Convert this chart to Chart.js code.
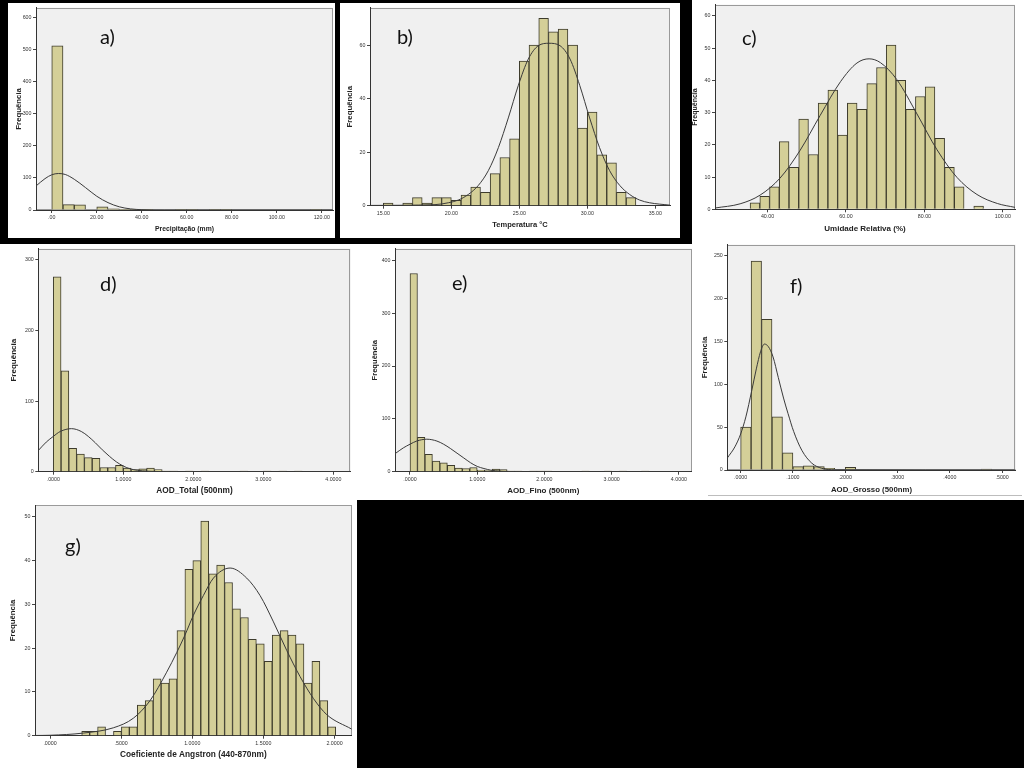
<!DOCTYPE html>
<html>
<head>
<meta charset="utf-8">
<script src="https://cdn.jsdelivr.net/npm/chart.js"></script>
<style>
html, body { margin:0; padding:0; background:#000; width:1024px; height:768px; overflow:hidden; position:relative; }
.w { position:absolute; background:#fff; }
canvas { position:absolute; }
.lbl { position:absolute; font:20px Lato, 'Open Sans', sans-serif; line-height:20px; color:#111; }
</style>
</head>
<body>
<!-- white sheets of the composite -->
<div class="w" style="left:8px;top:3px;width:327px;height:235px"></div>
<div class="w" style="left:340px;top:3px;width:340px;height:235px"></div>
<div class="w" style="left:692px;top:0;width:332px;height:500px"></div>
<div class="w" style="left:0;top:244px;width:692px;height:256px"></div>
<div class="w" style="left:0;top:500px;width:357px;height:268px"></div>
<div style="position:absolute;left:708px;top:495px;width:314px;height:1px;background:#bdbdbd"></div>

<canvas id="pa" width="327" height="235" style="left:8px;top:3px"></canvas>
<canvas id="pb" width="340" height="235" style="left:340px;top:3px"></canvas>
<canvas id="pc" width="332" height="240" style="left:692px;top:0"></canvas>
<canvas id="pd" width="358" height="256" style="left:0;top:244px"></canvas>
<canvas id="pe" width="335" height="256" style="left:358px;top:244px"></canvas>
<canvas id="pf" width="327" height="260" style="left:697px;top:240px"></canvas>
<canvas id="pg" width="357" height="268" style="left:0;top:500px"></canvas>

<div class="lbl" style="left:100px;top:26px">a)</div>
<div class="lbl" style="left:397px;top:26px">b)</div>
<div class="lbl" style="left:742px;top:27px">c)</div>
<div class="lbl" style="left:100px;top:273px">d)</div>
<div class="lbl" style="left:452px;top:272px">e)</div>
<div class="lbl" style="left:790px;top:275px">f)</div>
<div class="lbl" style="left:65px;top:535px">g)</div>

<script>
// a) Precipitação (mm)
const precipBinStart = 0;
const precipBinWidth = 5;
const precipCounts = [513, 17, 16, 0, 10, 4, 2, 1, 1, 0, 0, 1, 1, 0, 1, 1, 0, 0, 0, 0, 0, 0, 0, 1];
const precipCurveX = [-7, -3, 0, 3, 6, 10, 15, 20, 25, 30, 35, 40, 50, 125];
const precipCurveY = [75, 98, 110, 114, 111, 96, 70, 43, 23, 10, 3.5, 1, 0, 0];
const precipXTicks = [0, 20, 40, 60, 80, 100, 120];
const precipXLabels = ['.00', '20.00', '40.00', '60.00', '80.00', '100.00', '120.00'];
const precipYTicks = [0, 100, 200, 300, 400, 500, 600];

// b) Temperatura
const tempBinStart = 15;
const tempBinWidth = 0.7143;
const tempCounts = [1, 0, 1, 3, 1, 3, 3, 2, 4, 7, 5, 12, 18, 25, 54, 60, 70, 65, 66, 60, 29, 35, 19, 16, 5, 3];
const tempCurveX = [14.02, 18.8, 19.78, 20.51, 21.25, 21.99, 22.72, 23.46, 24.19, 24.93, 25.66, 26.4, 27.18, 27.99, 28.73, 29.44, 30.17, 30.9, 31.64, 32.38, 33.11, 33.85, 34.58, 36.08];
const tempCurveY = [0.1, 0.4, 1.1, 2.1, 4.2, 7.6, 13.1, 21.7, 32.8, 45, 54.8, 59.8, 60.7, 59.8, 54.8, 45, 32.8, 21.7, 13.1, 7.6, 4.2, 2.1, 1.1, 0.2];
const tempXTicks = [15, 20, 25, 30, 35];
const tempXLabels = ['15.00', '20.00', '25.00', '30.00', '35.00'];
const tempYTicks = [0, 20, 40, 60];

// c) Umidade Relativa
const umidBinStart = 35.55;
const umidBinWidth = 2.48;
const umidCounts = [2, 4, 7, 21, 13, 28, 17, 33, 37, 23, 33, 31, 39, 44, 51, 40, 31, 35, 38, 22, 13, 7, 0, 1];
const umidCurveX = [26.6, 33.0, 38.1, 43.2, 48.3, 53.4, 58.6, 62.8, 65.9, 68.8, 73.0, 78.1, 83.2, 88.3, 93.4, 98.6, 103.1];
const umidCurveY = [0.4, 1.7, 4.4, 9.7, 18.3, 29.1, 39.6, 45.4, 46.7, 45.5, 40.2, 29.6, 18.5, 9.9, 4.6, 1.8, 0.6];
const umidXTicks = [40, 60, 80, 100];
const umidXLabels = ['40.00', '60.00', '80.00', '100.00'];
const umidYTicks = [0, 10, 20, 30, 40, 50, 60];

// d) AOD_Total
const aodTotBinStart = 0;
const aodTotBinWidth = 0.1111;
const aodTotCounts = [276, 143, 33, 25, 20, 19, 6, 6, 9, 5, 3, 4, 5, 3, 1, 1, 0, 1, 0, 1, 0, 0, 0, 0, 1, 0, 0, 1, 0, 1, 0, 1];
const aodTotCurveX = [-0.214, -0.1, 0, 0.1, 0.26, 0.4, 0.5, 0.6, 0.7, 0.8, 0.9, 1.0, 1.1, 1.2, 1.35, 1.5, 1.8, 4.25];
const aodTotCurveY = [30, 42, 50, 57, 61, 57, 50, 41, 31, 22, 14, 8, 4, 2, 0.7, 0.2, 0, 0];
const aodXTicks = [0, 1, 2, 3, 4];
const aodXLabels = ['.0000', '1.0000', '2.0000', '3.0000', '4.0000'];
const aodTotYTicks = [0, 100, 200, 300];

// e) AOD_Fino
const aodFinoBinStart = 0;
const aodFinoBinWidth = 0.1111;
const aodFinoCounts = [375, 65, 33, 20, 17, 12, 7, 6, 8, 3, 2, 5, 4, 1, 1, 0, 1, 1, 1, 0, 0, 0, 0, 1, 0, 0, 1, 0, 1, 0, 0, 1];
const aodFinoCurveX = [-0.223, -0.1, 0, 0.1, 0.25, 0.4, 0.5, 0.6, 0.7, 0.8, 0.9, 1.0, 1.1, 1.2, 1.35, 1.5, 1.8, 4.19];
const aodFinoCurveY = [34, 45, 52, 58, 61.5, 58, 52, 44, 35, 26, 17, 10, 6, 3, 1, 0.3, 0, 0];
const aodFinoYTicks = [0, 100, 200, 300, 400];

// f) AOD_Grosso
const aodGrBinStart = 0;
const aodGrBinWidth = 0.02;
const aodGrCounts = [50, 244, 176, 62, 20, 4, 5, 4, 2, 0, 3, 0, 0, 0, 0, 0, 0, 0, 0, 0, 0, 0, 0, 1];
const aodGrCurveX = [-0.0255, -0.011, 0, 0.01, 0.021, 0.03, 0.038, 0.0455, 0.053, 0.062, 0.072, 0.082, 0.0906, 0.1014, 0.117, 0.136, 0.155, 0.18, 0.526];
const aodGrCurveY = [14, 27, 42, 62, 92, 118, 138, 147, 144, 132, 108, 84, 66, 45, 23, 8, 2, 0.3, 0];
const aodGrXTicks = [0, 0.1, 0.2, 0.3, 0.4, 0.5];
const aodGrXLabels = ['.0000', '.1000', '.2000', '.3000', '.4000', '.5000'];
const aodGrYTicks = [0, 50, 100, 150, 200, 250];

// g) Coeficiente de Angstron
const angBinStart = 0.223;
const angBinWidth = 0.0558;
const angCounts = [1, 1, 2, 0, 1, 2, 2, 7, 8, 13, 12, 13, 24, 38, 40, 49, 37, 39, 35, 29, 27, 22, 21, 17, 23, 24, 23, 21, 12, 17, 8, 2];
const angCurveX = [-0.105, 0, 0.234, 0.445, 0.586, 0.703, 0.82, 0.891, 0.949, 1.008, 1.078, 1.149, 1.266, 1.383, 1.477, 1.571, 1.664, 1.758, 1.852, 1.946, 2.121];
const angCurveY = [0.05, 0.1, 0.6, 1.8, 4, 8, 14.5, 19, 23, 27.5, 32, 36, 38.3, 36, 32, 26, 19.5, 13.5, 8.5, 4.8, 1.5];
const angXTicks = [0, 0.5, 1, 1.5, 2];
const angXLabels = ['.0000', '.5000', '1.0000', '1.5000', '2.0000'];
const angYTicks = [0, 10, 20, 30, 40, 50];

Chart.defaults.font.family = "'Liberation Sans', Arial, sans-serif";

// fundo cinza da área do gráfico (estilo SPSS)
const plotBg = {
    id: 'plotBg',
    beforeDraw(chart) {
        const { ctx, chartArea: a } = chart;
        ctx.save();
        ctx.fillStyle = '#f0f0f0';
        ctx.fillRect(a.left, a.top, a.width, a.height);
        ctx.strokeStyle = '#9a9a9a';
        ctx.lineWidth = 1;
        ctx.strokeRect(Math.round(a.left) + 0.5, Math.round(a.top) + 0.5, Math.round(a.width) - 1, Math.round(a.height) - 1);
        ctx.restore();
    }
};

function histPanel(id, d, lay) {
    const bars = d.counts.map((c, i) => ({ x: d.binStart + (i + 0.5) * d.binWidth, y: c }));
    const curve = d.curveX.map((x, i) => ({ x: x, y: d.curveY[i] }));
    new Chart(document.getElementById(id), {
        type: 'bar',
        data: {
            datasets: [
                { type: 'line', data: curve, borderColor: '#3a3a3a', borderWidth: 1, pointRadius: 0,
                  cubicInterpolationMode: 'monotone', order: 0 },
                { type: 'bar', data: bars, backgroundColor: '#d4cf98', borderColor: '#3d3b2c', borderWidth: 1,
                  barPercentage: 1, categoryPercentage: 1, order: 1 }
            ]
        },
        options: {
            responsive: false, animation: false, devicePixelRatio: 1,
            layout: { padding: { top: lay.padTop, right: lay.padRight, bottom: lay.padBottom, left: 0 } },
            plugins: { legend: { display: false }, tooltip: { enabled: false } },
            scales: {
                x: {
                    type: 'linear', min: d.xMin, max: d.xMax, offset: false, bounds: 'data',
                    grid: { display: true, drawOnChartArea: false, drawTicks: true, tickLength: 3, color: '#444', offset: false },
                    border: { display: true, color: '#333', width: 1 },
                    ticks: { autoSkip: false, maxRotation: 0, padding: 1.5, color: '#333', font: { size: 5.3 },
                             callback: (v, i) => d.xLabels[i] },
                    afterBuildTicks: s => { s.ticks = d.xTicks.map(v => ({ value: v })); },
                    afterFit: s => { s.height = 28; },
                    title: { display: true, text: d.xTitle, color: '#222',
                             font: { size: lay.xTitleSize, weight: 'bold', lineHeight: 1 },
                             padding: { top: 0, bottom: 8.5 - lay.xTitleSize / 2 } }
                },
                y: {
                    min: 0, max: d.yMax, bounds: 'data',
                    grid: { display: true, drawOnChartArea: false, drawTicks: true, tickLength: 3, color: '#444' },
                    border: { display: true, color: '#333', width: 1 },
                    ticks: { autoSkip: false, padding: 1.5, color: '#333', font: { size: 5.3 },
                             callback: (v, i) => String(d.yTicks[i]) },
                    afterBuildTicks: s => { s.ticks = d.yTicks.map(v => ({ value: v })); },
                    afterFit: s => { s.width = lay.yWidth; },
                    title: { display: true, text: 'Frequência', color: '#222',
                             font: { size: lay.yTitleSize, weight: 'bold', lineHeight: 1 },
                             padding: { top: Math.max(0, lay.yTitleX - lay.yTitleSize / 2), bottom: 0 } }
                }
            }
        },
        plugins: [plotBg]
    });
}

histPanel('pa', { counts: precipCounts, binStart: precipBinStart, binWidth: precipBinWidth,
    curveX: precipCurveX, curveY: precipCurveY, xTicks: precipXTicks, xLabels: precipXLabels,
    yTicks: precipYTicks, xMin: -7, xMax: 125, yMax: 632, xTitle: 'Precipitação (mm)' },
    { padTop: 2, padRight: 2, padBottom: 0, yWidth: 28, xTitleSize: 6.8, yTitleSize: 7.8, yTitleX: 11 });

histPanel('pb', { counts: tempCounts, binStart: tempBinStart, binWidth: tempBinWidth,
    curveX: tempCurveX, curveY: tempCurveY, xTicks: tempXTicks, xLabels: tempXLabels,
    yTicks: tempYTicks, xMin: 14.02, xMax: 36.08, yMax: 74, xTitle: 'Temperatura °C' },
    { padTop: 2, padRight: 10, padBottom: 4.3, yWidth: 30, xTitleSize: 7.5, yTitleSize: 7.8, yTitleX: 10 });

histPanel('pc', { counts: umidCounts, binStart: umidBinStart, binWidth: umidBinWidth,
    curveX: umidCurveX, curveY: umidCurveY, xTicks: umidXTicks, xLabels: umidXLabels,
    yTicks: umidYTicks, xMin: 26.6, xMax: 103.1, yMax: 63.5, xTitle: 'Umidade Relativa (%)' },
    { padTop: 3, padRight: 9, padBottom: 2.7, yWidth: 23, xTitleSize: 8, yTitleSize: 7, yTitleX: 3.5 });

histPanel('pd', { counts: aodTotCounts, binStart: aodTotBinStart, binWidth: aodTotBinWidth,
    curveX: aodTotCurveX, curveY: aodTotCurveY, xTicks: aodXTicks, xLabels: aodXLabels,
    yTicks: aodTotYTicks, xMin: -0.214, xMax: 4.248, yMax: 316, xTitle: 'AOD_Total (500nm)' },
    { padTop: 3.3, padRight: 7.3, padBottom: 0.3, yWidth: 38.3, xTitleSize: 8.3, yTitleSize: 8, yTitleX: 13.3 });

histPanel('pe', { counts: aodFinoCounts, binStart: aodFinoBinStart, binWidth: aodFinoBinWidth,
    curveX: aodFinoCurveX, curveY: aodFinoCurveY, xTicks: aodXTicks, xLabels: aodXLabels,
    yTicks: aodFinoYTicks, xMin: -0.223, xMax: 4.19, yMax: 422, xTitle: 'AOD_Fino (500nm)' },
    { padTop: 3.3, padRight: 1.3, padBottom: 0.3, yWidth: 37, xTitleSize: 8, yTitleSize: 7.6, yTitleX: 17 });

histPanel('pf', { counts: aodGrCounts, binStart: aodGrBinStart, binWidth: aodGrBinWidth,
    curveX: aodGrCurveX, curveY: aodGrCurveY, xTicks: aodGrXTicks, xLabels: aodGrXLabels,
    yTicks: aodGrYTicks, xMin: -0.0255, xMax: 0.526, yMax: 263, xTitle: 'AOD_Grosso (500nm)' },
    { padTop: 2, padRight: 8.3, padBottom: 2, yWidth: 30.3, xTitleSize: 7.8, yTitleSize: 7.8, yTitleX: 8 });

histPanel('pg', { counts: angCounts, binStart: angBinStart, binWidth: angBinWidth,
    curveX: angCurveX, curveY: angCurveY, xTicks: angXTicks, xLabels: angXLabels,
    yTicks: angYTicks, xMin: -0.1055, xMax: 2.121, yMax: 52.7, xTitle: 'Coeficiente de Angstron (440-870nm)' },
    { padTop: 5, padRight: 5.3, padBottom: 4.3, yWidth: 35, xTitleSize: 8.3, yTitleSize: 7.8, yTitleX: 13.3 });
</script>
</body>
</html>
